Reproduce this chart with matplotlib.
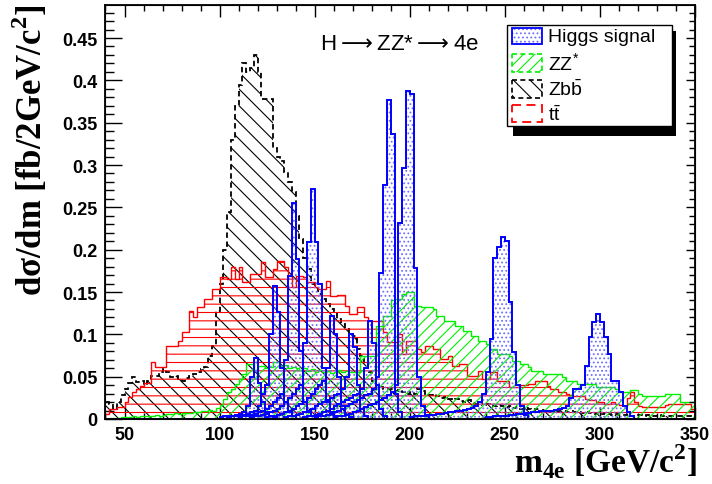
import numpy as np
import matplotlib
matplotlib.use('Agg')
import matplotlib.pyplot as plt
import matplotlib.patches as patches
import matplotlib.ticker as ticker

plt.rcParams['mathtext.fontset'] = 'custom'
plt.rcParams['mathtext.rm'] = 'Liberation Serif:bold'
plt.rcParams['mathtext.sf'] = 'Liberation Sans'
plt.rcParams['hatch.linewidth'] = 0.8

# 2 GeV bins from 40 to 350 GeV
m_low = 40
bin_w = 2

# Z b bbar
zbb = [0.020, 0.018, 0.012, 0.020, 0.028, 0.035, 0.042, 0.050, 0.044, 0.045,   # 40
       0.040, 0.045, 0.051, 0.051, 0.055, 0.059, 0.055, 0.050, 0.051, 0.047,   # 60
       0.045, 0.048, 0.051, 0.053, 0.055, 0.059, 0.061, 0.074, 0.086, 0.128,   # 80
       0.160, 0.200, 0.245, 0.330, 0.370, 0.395, 0.420, 0.410, 0.415, 0.430,   # 100
       0.410, 0.378, 0.378, 0.378, 0.320, 0.310, 0.305, 0.292, 0.280, 0.268,   # 120
       0.240, 0.213, 0.190, 0.177, 0.160, 0.155, 0.148, 0.142, 0.136, 0.130,   # 140
       0.126, 0.118, 0.112, 0.106, 0.100, 0.098, 0.083, 0.075, 0.065, 0.055,   # 160
       0.045, 0.040, 0.038, 0.036, 0.035, 0.035, 0.033, 0.034, 0.032, 0.030,   # 180
       0.032, 0.030, 0.035, 0.033, 0.030, 0.028, 0.030, 0.027, 0.025, 0.026,   # 200
       0.024, 0.022, 0.024, 0.021, 0.020, 0.022, 0.019, 0.018, 0.020, 0.017,   # 220
       0.018, 0.016, 0.015, 0.017, 0.015, 0.014, 0.015, 0.013, 0.014, 0.012,   # 240
       0.013, 0.012, 0.011, 0.012, 0.010, 0.011, 0.010, 0.009, 0.010, 0.009,   # 260
       0.010, 0.008, 0.009, 0.008, 0.008, 0.007, 0.008, 0.007, 0.006, 0.007,   # 280
       0.006, 0.007, 0.006, 0.005, 0.006, 0.005, 0.005, 0.006, 0.004, 0.005,   # 300
       0.005, 0.004, 0.005, 0.004, 0.004, 0.005, 0.004, 0.003, 0.004, 0.003,   # 320
       0.004, 0.003, 0.003, 0.004, 0.003]                                      # 340

# t tbar
ttbar = [0.006, 0.012, 0.012, 0.014, 0.014, 0.020, 0.026, 0.032, 0.035, 0.039,
         0.043, 0.043, 0.067, 0.061, 0.061, 0.061, 0.086, 0.086, 0.086, 0.092,
         0.103, 0.103, 0.128, 0.120, 0.132, 0.132, 0.142, 0.142, 0.154, 0.154,
         0.168, 0.168, 0.165, 0.180, 0.165, 0.180, 0.162, 0.162, 0.171, 0.171,
         0.171, 0.185, 0.168, 0.168, 0.177, 0.187, 0.187, 0.180, 0.169, 0.156,
         0.169, 0.169, 0.168, 0.162, 0.162, 0.156, 0.153, 0.153, 0.163, 0.145,
         0.145, 0.146, 0.146, 0.133, 0.124, 0.124, 0.132, 0.132, 0.120, 0.116,
         0.116, 0.116, 0.116, 0.103, 0.091, 0.091, 0.091, 0.100, 0.077, 0.092,
         0.092, 0.092, 0.083, 0.079, 0.086, 0.086, 0.083, 0.083, 0.071, 0.071,
         0.075, 0.063, 0.063, 0.065, 0.065, 0.051, 0.051, 0.051, 0.057, 0.047,
         0.047, 0.055, 0.055, 0.045, 0.045, 0.045, 0.038, 0.038, 0.038, 0.040,
         0.040, 0.041, 0.041, 0.045, 0.045, 0.045, 0.039, 0.035, 0.035, 0.032,
         0.032, 0.030, 0.028, 0.027, 0.027, 0.027, 0.024, 0.022, 0.022, 0.020,
         0.020, 0.018, 0.018, 0.020, 0.018, 0.016, 0.015, 0.025, 0.032, 0.020,
         0.015, 0.014, 0.014, 0.014, 0.014, 0.014, 0.014, 0.016, 0.018, 0.018,
         0.018, 0.018, 0.018, 0.018, 0.012]

# ZZ*
zz = [0.000, 0.001, 0.001, 0.001, 0.002, 0.002, 0.002, 0.003, 0.002, 0.003,
      0.004, 0.004, 0.004, 0.005, 0.004, 0.005, 0.006, 0.006, 0.007, 0.006,
      0.007, 0.007, 0.007, 0.008, 0.008, 0.010, 0.010, 0.011, 0.010, 0.013,
      0.016, 0.024, 0.032, 0.036, 0.041, 0.047, 0.053, 0.065, 0.065, 0.058,
      0.063, 0.063, 0.060, 0.062, 0.067, 0.067, 0.063, 0.064, 0.060, 0.062,
      0.060, 0.058, 0.060, 0.057, 0.059, 0.056, 0.058, 0.055, 0.057, 0.054,
      0.056, 0.058, 0.055, 0.057, 0.056, 0.055, 0.055, 0.075, 0.075, 0.075,
      0.075, 0.110, 0.110, 0.122, 0.122, 0.140, 0.142, 0.142, 0.148, 0.150,
      0.150, 0.134, 0.134, 0.132, 0.132, 0.132, 0.130, 0.122, 0.122, 0.116,
      0.116, 0.116, 0.110, 0.110, 0.104, 0.104, 0.098, 0.098, 0.092, 0.092,
      0.088, 0.083, 0.083, 0.077, 0.077, 0.077, 0.075, 0.069, 0.069, 0.065,
      0.065, 0.062, 0.057, 0.057, 0.057, 0.053, 0.053, 0.053, 0.053, 0.053,
      0.050, 0.045, 0.045, 0.045, 0.041, 0.041, 0.041, 0.041, 0.041, 0.038,
      0.038, 0.038, 0.038, 0.038, 0.035, 0.032, 0.032, 0.032, 0.034, 0.034,
      0.030, 0.027, 0.027, 0.027, 0.027, 0.027, 0.027, 0.030, 0.030, 0.030,
      0.030, 0.020, 0.020, 0.020, 0.020]

# Higgs signal, one histogram per mass, first bin given in higgs_first
higgs_first = [100, 104, 110, 116, 124, 134, 144, 150, 160, 200, 240]
h120 = [0.002, 0.003, 0.003, 0.004, 0.005, 0.006, 0.008, 0.015, 0.050, 0.072,
        0.043, 0.020, 0.008, 0.004, 0.002]
h130 = [0.002, 0.003, 0.003, 0.004, 0.005, 0.006, 0.008, 0.010, 0.015, 0.030,
        0.040, 0.100, 0.157, 0.126, 0.060, 0.020, 0.008, 0.003]
h140 = [0.002, 0.003, 0.004, 0.005, 0.006, 0.008, 0.010, 0.012, 0.015, 0.020,
        0.025, 0.030, 0.070, 0.169, 0.255, 0.189, 0.080, 0.020, 0.008, 0.003]
h150 = [0.002, 0.003, 0.004, 0.005, 0.006, 0.008, 0.010, 0.012, 0.015, 0.020,
        0.025, 0.030, 0.035, 0.040, 0.090, 0.209, 0.272, 0.209, 0.160, 0.060,
        0.020, 0.008, 0.003]
h160 = [0.002, 0.003, 0.004, 0.005, 0.006, 0.008, 0.010, 0.012, 0.015, 0.018,
        0.020, 0.025, 0.030, 0.035, 0.040, 0.045, 0.060, 0.122, 0.100, 0.050,
        0.015, 0.005, 0.002]
h170 = [0.002, 0.003, 0.004, 0.005, 0.006, 0.008, 0.010, 0.012, 0.015, 0.018,
        0.020, 0.022, 0.025, 0.028, 0.030, 0.035, 0.050, 0.100, 0.085, 0.040,
        0.012, 0.004]
h180 = [0.002, 0.003, 0.004, 0.005, 0.006, 0.008, 0.010, 0.012, 0.015, 0.018,
        0.020, 0.022, 0.025, 0.028, 0.030, 0.035, 0.060, 0.116, 0.090, 0.040,
        0.012, 0.004]
h190 = [0.002, 0.003, 0.004, 0.005, 0.006, 0.008, 0.010, 0.012, 0.015, 0.018,
        0.020, 0.022, 0.025, 0.028, 0.030, 0.035, 0.050, 0.173, 0.276, 0.377,
        0.337, 0.030, 0.008]
h200 = [0.002, 0.003, 0.004, 0.005, 0.006, 0.008, 0.010, 0.012, 0.014, 0.016,
        0.018, 0.020, 0.022, 0.025, 0.028, 0.032, 0.040, 0.232, 0.296, 0.388,
        0.384, 0.178, 0.050, 0.015, 0.005]
h250 = [0.002, 0.003, 0.003, 0.004, 0.004, 0.005, 0.005, 0.006, 0.006, 0.007,
        0.008, 0.008, 0.009, 0.010, 0.011, 0.012, 0.013, 0.015, 0.020, 0.030,
        0.055, 0.095, 0.190, 0.203, 0.215, 0.210, 0.138, 0.079, 0.040, 0.015,
        0.005]
h300 = [0.002, 0.002, 0.003, 0.003, 0.004, 0.004, 0.005, 0.005, 0.006, 0.006,
        0.007, 0.007, 0.008, 0.008, 0.009, 0.009, 0.010, 0.010, 0.011, 0.012,
        0.013, 0.015, 0.025, 0.035, 0.035, 0.040, 0.063, 0.097, 0.114, 0.124,
        0.114, 0.097, 0.077, 0.045, 0.045, 0.032, 0.015, 0.008, 0.004]
higgs = [h120, h130, h140, h150, h160, h170, h180, h190, h200, h250, h300]

legend_labels = ['Higgs signal', 'ZZ$^{\\mathsf{*}}$', 'Zb$\\mathsf{\\bar{b}}$', 't$\\mathsf{\\bar{t}}$']

nbins = len(zz)
edges = m_low + bin_w * np.arange(nbins + 1)

W, H = 712, 485
fig = plt.figure(figsize=(W / 100, H / 100), dpi=100)
ax = fig.add_axes([105.5 / W, 1 - 420 / H, (695 - 105.5) / W, (420 - 6) / H])

blue = '#0000ff'
blue_dots = '#7070ff'
green = '#00f000'


def draw_hist(vals, color, hatch, hcolor=None, ls='-', lw=1.0, z=2, clip=True):
	ax.stairs(vals, edges, fill=True, facecolor='none', edgecolor=hcolor or color,
		hatch=hatch, linewidth=0, zorder=z)
	ax.stairs(vals, edges, color=color, linestyle=ls, linewidth=lw,
		zorder=z + 0.5, clip_on=clip)


draw_hist(zbb, 'black', '\\\\', ls=(0, (3, 2)), lw=1.3, z=2)
draw_hist(ttbar, '#ff0000', '--', lw=1.0, z=3)
draw_hist(zz, green, '///', lw=1.0, z=4)
for first, vals in zip(higgs_first, higgs):
	full = np.zeros(nbins)
	i0 = (first - m_low) // bin_w
	full[i0:i0 + len(vals)] = vals
	draw_hist(full, blue, '....', hcolor=blue_dots, lw=1.4, z=5, clip=False)

ax.set_xlim(40, 350)
ax.set_ylim(0, 0.489)
ax.xaxis.set_major_locator(ticker.MultipleLocator(50))
ax.xaxis.set_minor_locator(ticker.MultipleLocator(10))
ax.yaxis.set_major_locator(ticker.MultipleLocator(0.05))
ax.yaxis.set_minor_locator(ticker.MultipleLocator(0.01))
ax.yaxis.set_major_formatter(ticker.FuncFormatter(lambda v, p: '%g' % round(v, 3)))
ax.tick_params(which='both', direction='in', top=True, right=False, width=1.0)
ax.tick_params(axis='y', which='major', length=12.5, pad=6)
ax.tick_params(axis='y', which='minor', length=6.5)
ax.tick_params(axis='x', which='major', length=8.5, pad=5)
ax.tick_params(axis='x', which='minor', length=4.5)
for lab in ax.get_xticklabels() + ax.get_yticklabels():
	lab.set_fontfamily('Liberation Sans')
	lab.set_fontweight('bold')
	lab.set_fontsize(13)
for sp in ax.spines.values():
	sp.set_linewidth(1.3)
	sp.set_zorder(10)

# shorter ticks on the right side
axr = ax.twinx()
axr.set_ylim(ax.get_ylim())
axr.yaxis.set_major_locator(ticker.MultipleLocator(0.05))
axr.yaxis.set_minor_locator(ticker.MultipleLocator(0.01))
axr.tick_params(which='both', direction='in', labelright=False, width=1.0)
axr.tick_params(which='major', length=6.5)
axr.tick_params(which='minor', length=4.5)

fig.text(30 / W, 1 - 5 / H, 'd\u03c3/dm [fb/2GeV/c$^{\\mathrm{2}}$]', rotation=90,
	ha='center', va='top', fontfamily='Liberation Serif', fontweight='bold', fontsize=25)
fig.text(697 / W, 1 - 462 / H, 'm$_{\\mathrm{4e}}$ [GeV/c$^{\\mathrm{2}}$]',
	ha='right', va='center', fontfamily='Liberation Serif', fontweight='bold', fontsize=24)

# overlay in pixel units for legend and title
lax = fig.add_axes([0, 0, 1, 1], zorder=20)
lax.set_xlim(0, W)
lax.set_ylim(H, 0)
lax.axis('off')
lax.patch.set_alpha(0)

lax.text(320, 45, 'H$\\longrightarrow$ZZ*$\\longrightarrow$4e', ha='left', va='center',
	fontsize=16, fontfamily='Liberation Sans', math_fontfamily='dejavusans')

lax.add_patch(patches.Rectangle((672, 32), 4, 105, facecolor='black', edgecolor='none'))
lax.add_patch(patches.Rectangle((513, 127), 163, 10, facecolor='black', edgecolor='none'))
lax.add_patch(patches.Rectangle((507, 26), 165, 101, facecolor='white', edgecolor='black', linewidth=1.0))

lax.add_patch(patches.Rectangle((512, 29), 30, 16, facecolor='none', edgecolor=blue_dots, hatch='....', linewidth=0))
lax.add_patch(patches.Rectangle((512, 29), 30, 16, facecolor='none', edgecolor=blue, linewidth=1.3))
lax.add_patch(patches.Rectangle((512, 55), 30, 18, facecolor='none', edgecolor=green, hatch='///', linewidth=1.2, linestyle=(0, (3, 2))))
lax.add_patch(patches.Rectangle((512, 81), 30, 18, facecolor='none', edgecolor='black', hatch='\\\\', linewidth=1.2, linestyle=(0, (3, 2))))
lax.add_patch(patches.Rectangle((512, 106), 30, 17, facecolor='none', edgecolor='#ff0000', linewidth=1.3, linestyle=(0, (5, 3))))

for ypix, lab in zip([37, 64, 90, 115], legend_labels):
	lax.text(548, ypix, lab, ha='left', va='center', fontsize=14, fontfamily='Liberation Sans')

fig.savefig('out.png', dpi=100, facecolor='white')
